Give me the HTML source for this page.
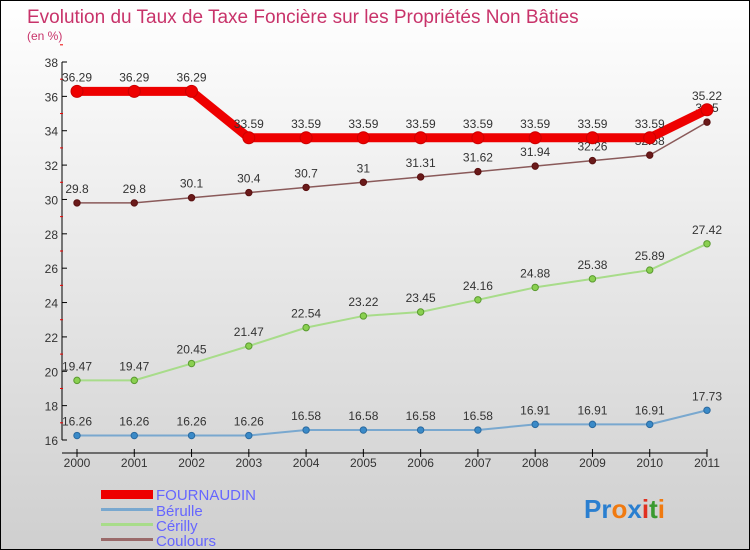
<!DOCTYPE html>
<html><head><meta charset="utf-8"><style>
body{margin:0}
#c{width:750px;height:550px;position:relative;box-sizing:border-box;border:1px solid #000;background:linear-gradient(#ffffff,#cfcfcf);font-family:"Liberation Sans",sans-serif;overflow:hidden}
</style></head><body>
<div id="c">
<svg id="s" width="750" height="550" style="position:absolute;left:0;top:0" font-family="Liberation Sans, sans-serif">
<text x="26" y="22" font-size="19" fill="#c8336a">Evolution du Taux de Taxe Foncière sur les Propriétés Non Bâties</text>
<text x="26" y="39" font-size="12" fill="#c8336a">(en %)</text>
<g id="plot"></g>
<g>
<rect x="100" y="489" width="52" height="9" fill="#e00"/>
<text x="155" y="499" font-size="15" fill="#66f">FOURNAUDIN</text>
<rect x="100" y="507" width="52" height="3" fill="#79a8cf"/>
<text x="155" y="515" font-size="15" fill="#66f">Bérulle</text>
<rect x="100" y="522" width="52" height="3" fill="#a8dc8a"/>
<text x="155" y="530" font-size="15" fill="#66f">Cérilly</text>
<rect x="100" y="537" width="52" height="3" fill="#9a6a6a"/>
<text x="155" y="545" font-size="15" fill="#66f">Coulours</text>
</g>
<text x="583" y="517" font-size="26" font-weight="bold"><tspan fill="#2a7fd0">Pr</tspan><tspan fill="#f07a10">o</tspan><tspan fill="#2a7fd0">x</tspan><tspan fill="#e03020">i</tspan><tspan fill="#3a9a30">t</tspan><tspan fill="#f07a10">i</tspan></text>
</svg>
</div>
<script>
const years=["2000","2001","2002","2003","2004","2005","2006","2007","2008","2009","2010","2011"];
const fournaudin=[36.29,36.29,36.29,33.59,33.59,33.59,33.59,33.59,33.59,33.59,33.59,35.22];
const coulours=[29.8,29.8,30.1,30.4,30.7,31,31.31,31.62,31.94,32.26,32.58,34.5];
const cerilly=[19.47,19.47,20.45,21.47,22.54,23.22,23.45,24.16,24.88,25.38,25.89,27.42];
const berulle=[16.26,16.26,16.26,16.26,16.58,16.58,16.58,16.58,16.91,16.91,16.91,17.73];
const yTicks=[16,18,20,22,24,26,28,30,32,34,36,38];
const NS="http://www.w3.org/2000/svg";
const g=document.getElementById("plot");
function X(i){return 76+i*(706-76)/(years.length-1);}
function Y(v){return 439-(v-16)*(439-61)/22;}
function el(t,a){const e=document.createElementNS(NS,t);for(const k in a)e.setAttribute(k,a[k]);g.appendChild(e);return e;}
let ax=el("line",{x1:61,y1:Y(38),x2:61,y2:Y(16),stroke:"#000"});


let xx=el("line",{x1:61,y1:452,x2:706,y2:452,stroke:"#000"});


yTicks.forEach(v=>{
 el("line",{x1:61,y1:Y(v),x2:66,y2:Y(v),stroke:"#000"});
 el("line",{x1:59,y1:Y(v+1),x2:62,y2:Y(v+1),stroke:"#e00"});
 const t=el("text",{x:57,y:Y(v)+5,"font-size":12,"text-anchor":"end",fill:"#333"});t.textContent=v;
 
 
});
years.forEach((y,i)=>{
 el("line",{x1:X(i),y1:448,x2:X(i),y2:456,stroke:"#000"});
 const t=el("text",{x:X(i),y:466,"font-size":12,"text-anchor":"middle",fill:"#333"});t.textContent=y;
 
 
});
function series(name,vals,color,w,r,dot,stroke){
 const p=el("polyline",{points:vals.map((v,i)=>X(i)+","+Y(v)).join(" "),fill:"none",stroke:color,"stroke-width":w,"stroke-linejoin":"round"});
 
 
 vals.forEach((v,i)=>{
  const c=el("circle",{cx:X(i),cy:Y(v),r:r,fill:dot,stroke:stroke,"stroke-width":1});
  
  
  const t=el("text",{x:X(i),y:Y(v)-10,"font-size":12,"text-anchor":"middle",fill:"#333"});t.textContent=v;
  
  
 });
}
series("coulours",coulours,"#8a5a5a",1.5,3.2,"#6a1a1a","#5a1010");
series("cerilly",cerilly,"#a8dc8a",2,3.2,"#8ad050","#5a9a30");
series("berulle",berulle,"#79a8cf",2,3.2,"#3a8ac8","#2a6aa0");
series("fournaudin",fournaudin,"#e00",9,6,"#e00","#c00");
</script>
</body></html>
